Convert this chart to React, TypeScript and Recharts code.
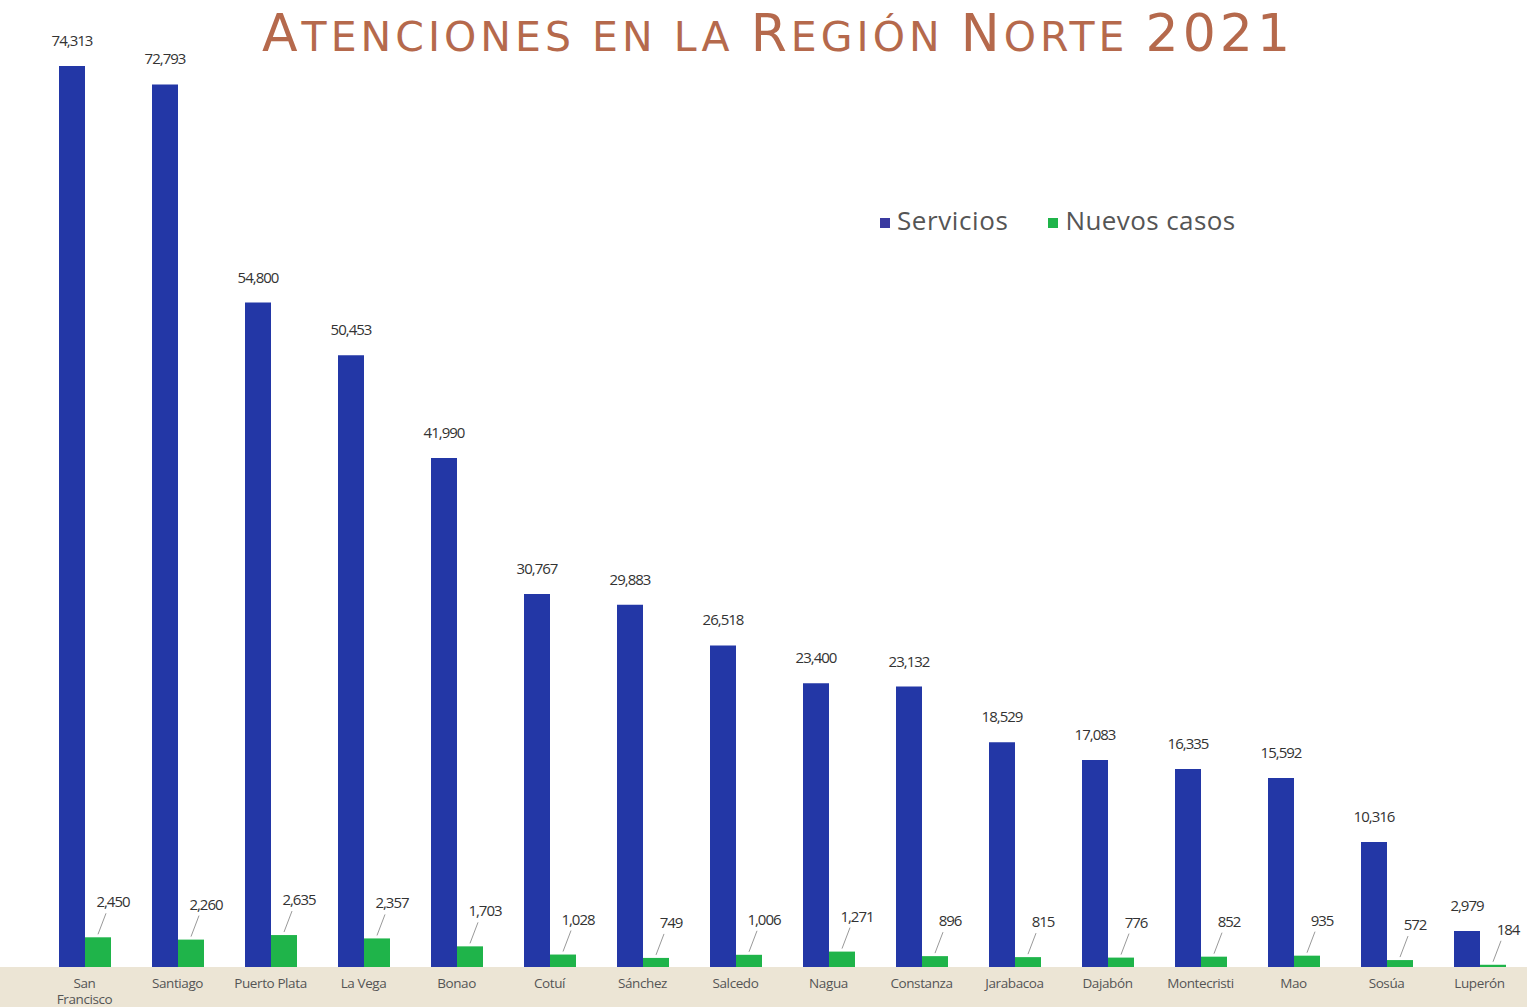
import React from "react";
import { BarChart, Bar, XAxis, YAxis, LabelList } from "recharts";

const categories = ["San Francisco", "Santiago", "Puerto Plata", "La Vega", "Bonao", "Cotuí", "Sánchez", "Salcedo", "Nagua", "Constanza", "Jarabacoa", "Dajabón", "Montecristi", "Mao", "Sosúa", "Luperón"];
const servicios = [74313, 72793, 54800, 50453, 41990, 30767, 29883, 26518, 23400, 23132, 18529, 17083, 16335, 15592, 10316, 2979];
const nuevosCasos = [2450, 2260, 2635, 2357, 1703, 1028, 749, 1006, 1271, 896, 815, 776, 852, 935, 572, 184];

const titleParts: [string, boolean][] = [["A", true], ["TENCIONES EN LA ", false], ["R", true], ["EGIÓN ", false], ["N", true], ["ORTE ", false], ["2021", true]];

const data = categories.map((c, i) => ({ name: c, servicios: servicios[i], nuevos: nuevosCasos[i] }));

const fmt = (v: number) => v.toLocaleString("en-US");

const BLUE = "#2337a6";
const GREEN = "#1fb44a";
const LABEL_FONT = "'Open Sans', 'Noto Sans', sans-serif";

const BlueLabel = (props: any) => {
  const { x, y, width, value } = props;
  return (
    <text x={x + width / 2} y={y - 20} textAnchor="middle" fontSize={15} fill="#333" fontFamily={LABEL_FONT} letterSpacing={-1}>
      {fmt(value)}
    </text>
  );
};

const GreenLabel = (props: any) => {
  const { x, y, width, value } = props;
  const cx = x + width / 2;
  return (
    <g>
      <line x1={cx} y1={y - 3} x2={cx + 8} y2={y - 24} stroke="#999" strokeWidth={1} />
      <text x={cx + 15} y={y - 30} textAnchor="middle" fontSize={15} fill="#333" fontFamily={LABEL_FONT} letterSpacing={-1}>
        {fmt(value)}
      </text>
    </g>
  );
};

const CatTick = (props: any) => {
  const { x, y, payload } = props;
  const words = payload.value === "San Francisco" ? ["San", "Francisco"] : [payload.value];
  return (
    <g>
      {words.map((w: string, i: number) => (
        <text key={i} x={x} y={y + 13 + i * 16} textAnchor="middle" fontSize={13.5} fill="#555" fontFamily={LABEL_FONT} letterSpacing={-0.4}>
          {w}
        </text>
      ))}
    </g>
  );
};

export default function App() {
  return (
    <div style={{ position: "absolute", left: 0, top: 0, width: 1527, height: 1007, background: "#fff", overflow: "hidden" }}>
      <div style={{ position: "absolute", left: 0, top: 967, width: 1527, height: 40, background: "#ece5d5" }} />
      <svg style={{ position: "absolute", left: 0, top: 0 }} width={1527} height={70}>
        <text x={776} y={51} textAnchor="middle" fill="#b5694c" fontFamily="'DejaVu Sans', sans-serif" textLength={1028} lengthAdjust="spacing">
          {titleParts.map(([t, big], i) => (
            <tspan key={i} fontSize={big ? 52 : 41}>{t}</tspan>
          ))}
        </text>
      </svg>
      <div style={{ position: "absolute", left: 0, top: 0 }}>
        <BarChart width={1527} height={1007} data={data} margin={{ top: 66, right: 1, left: 38, bottom: 0 }} barGap={0} barSize={26}>
          <XAxis dataKey="name" axisLine={false} tickLine={false} height={40} tick={<CatTick />} interval={0} />
          <YAxis hide domain={[0, 74313]} />
          <Bar dataKey="servicios" fill={BLUE} isAnimationActive={false}>
            <LabelList dataKey="servicios" content={<BlueLabel />} />
          </Bar>
          <Bar dataKey="nuevos" fill={GREEN} isAnimationActive={false}>
            <LabelList dataKey="nuevos" content={<GreenLabel />} />
          </Bar>
        </BarChart>
      </div>
      <div style={{ position: "absolute", left: 880, top: 202, display: "flex", alignItems: "center", fontFamily: "'Open Sans', 'Noto Sans', sans-serif", fontSize: 26, color: "#555" }}>
        <span style={{ display: "inline-block", width: 10, height: 10, background: "#3a3aa0", marginRight: 7, marginTop: 6 }} />
        <span style={{ letterSpacing: 0.6 }}>Servicios</span>
        <span style={{ display: "inline-block", width: 10, height: 10, background: GREEN, marginLeft: 40, marginRight: 7, marginTop: 6 }} />
        <span style={{ letterSpacing: 0.4 }}>Nuevos casos</span>
      </div>
    </div>
  );
}
